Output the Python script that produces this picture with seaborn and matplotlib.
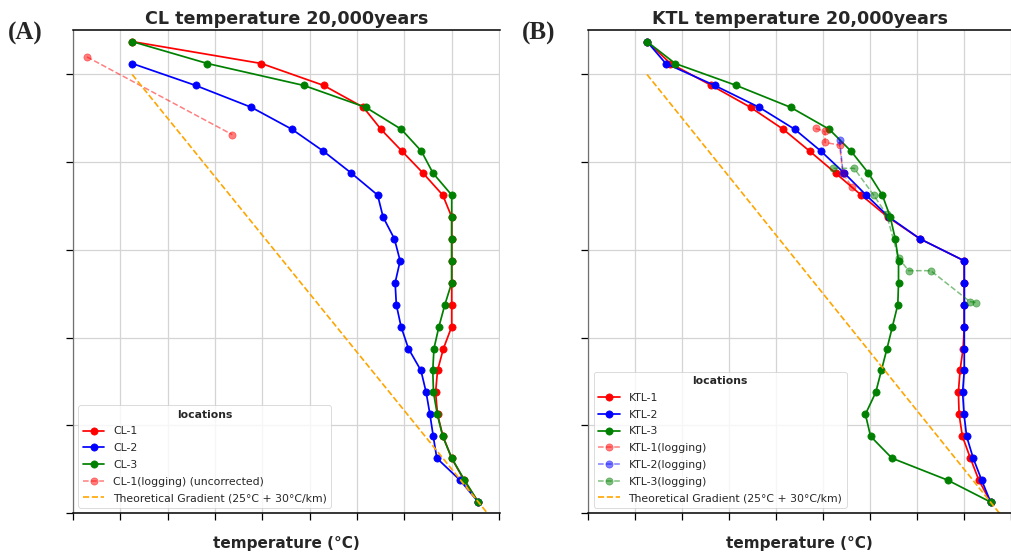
import matplotlib
matplotlib.use("Agg")
import matplotlib.pyplot as plt
import seaborn as sns
import pandas as pd

# ---------------- data ----------------
# elevation levels (m) of the model nodes
levels = [375, 125, -125, -375, -625, -875, -1125, -1375, -1625, -1875, -2125,
          -2375, -2625, -2875, -3125, -3375, -3625, -3875, -4125, -4375, -4625, -4875]

# Panel A : CL wells (temperature °C)
cl1_T = [25, 79.6, 105.9, 122.7, 130.1, 139.0, 147.9, 156.2, 160.0, 160.0, 160.0,
         160.0, 160.0, 160.0, 156.5, 154.0, 153.2, 154.0, 156.3, 160.0, 165.2, 171.2]
cl2_T = [25, 51.8, 75.4, 92.5, 105.8, 117.6, 128.7, 131.0, 135.8, 138.2,
         136.1, 136.6, 138.6, 141.7, 147.0, 149.2, 150.8, 152.2, 153.7, 163.5, 171.2]
cl3_T = [25, 56.8, 97.5, 123.7, 138.7, 147.2, 152.1, 160.0, 160.0, 160.0, 160.0,
         160.0, 157.1, 154.6, 152.5, 152.0, 152.3, 153.9, 156.2, 160.0, 165.4, 171.2]
cl1_log_T = [5.9, 67.3]
cl1_log_elev = [200, -686]

# Panel B : KTL wells
ktl1_T = [25, 35.0, 52.4, 69.1, 83.0, 94.3, 105.3, 116.2, 127.5, 141.3, 160.1,
          160.1, 160.1, 160.1, 159.6, 158.3, 157.6, 157.9, 159.3, 162.7, 166.3, 171.3]
ktl2_T = [25, 33.0, 53.8, 72.8, 87.9, 99.1, 109.0, 118.3, 128.0, 141.3, 160.1,
          160.1, 160.1, 160.1, 160.1, 160.1, 159.4, 160.0, 161.1, 163.9, 167.5, 171.3]
ktl3_T = [25, 37.0, 63.0, 86.2, 102.6, 111.9, 119.3, 125.2, 128.6, 130.7, 132.1,
          132.1, 131.8, 129.5, 127.2, 124.8, 122.4, 118.0, 120.2, 129.3, 153.0, 171.3]
ktl1_log_T = [96.8, 100.8, 100.8, 107.0, 108.4, 112.2]
ktl1_log_elev = [-615, -650, -775, -805, -1125, -1280]
ktl2_log_T = [107.0, 108.5]
ktl2_log_elev = [-745, -1125]
ktl3_log_T = [104.4, 113.2, 121.5, 127.0, 132.1, 136.4, 145.8, 162.5, 165.3]
ktl3_log_elev = [-1070, -1070, -1374, -1596, -2092, -2237, -2237, -2590, -2600]

# theoretical gradient 25 °C + 30 °C/km (end points)
theo_T = [25, 175]
theo_elev = [0, -5000]

x_ticks = [0, 20, 40, 60, 80, 100, 120, 140, 160, 180]
y_ticks = [0, -1000, -2000, -3000, -4000, -5000]

# ---------------- style ----------------
sns.set_theme(style="ticks")
plt.rcParams["font.family"] = ["DejaVu Sans"]

fig = plt.figure(figsize=(10.11, 5.53), dpi=100)
W, H = 1011, 553


def make_axes(left_px, right_px):
    return fig.add_axes([left_px / W, (H - 513) / H, (right_px - left_px) / W, 483 / H])


def series_plot(ax, T, elev, color, label, dashed=False):
    df = pd.DataFrame({"T": T, "elev": elev})
    kw = dict(linestyle="--", alpha=0.5, linewidth=1.1) if dashed else dict(linewidth=1.25)
    sns.lineplot(data=df, x="T", y="elev", sort=False, estimator=None, color=color,
                 marker="o", markersize=5.2, markeredgecolor=color, markeredgewidth=0.5,
                 label=label, ax=ax, **kw)


def style_axes(ax, title, xmax):
    ax.set_xlim(0, xmax)
    ax.set_ylim(-5000, 507)
    ax.set_xticks(x_ticks)
    ax.set_yticks(y_ticks)
    ax.set_xticklabels([])
    ax.set_yticklabels([])
    ax.grid(True, color="#d4d4d4", linewidth=0.9)
    ax.set_axisbelow(True)
    ax.spines["right"].set_visible(False)
    for s in ("top", "bottom"):
        ax.spines[s].set_color("black")
        ax.spines[s].set_linewidth(1.1)
    ax.spines["left"].set_color("#707070")
    ax.spines["left"].set_linewidth(0.9)
    ax.tick_params(direction="out", length=5, width=0.9, color="black")
    ax.set_title(title, fontsize=12.6, fontweight="bold", pad=4)
    ax.set_xlabel("temperature (°C)", fontsize=11, fontweight="bold", labelpad=8)
    ax.set_ylabel("")
    leg = ax.legend(title="locations", loc="lower left", fontsize=7.8, labelspacing=0.62,
                    title_fontproperties={"weight": "bold", "size": 7.8})
    leg.get_frame().set_linewidth(0.6)


# ---------------- panel A ----------------
axA = make_axes(73, 500)
series_plot(axA, cl1_T, levels, "red", "CL-1")
series_plot(axA, cl2_T, levels[1:], "blue", "CL-2")
series_plot(axA, cl3_T, levels, "green", "CL-3")
series_plot(axA, cl1_log_T, cl1_log_elev, "red", "CL-1(logging) (uncorrected)", dashed=True)
axA.plot(theo_T, theo_elev, linestyle="--", color="orange", linewidth=1.2,
         label="Theoretical Gradient (25°C + 30°C/km)")
style_axes(axA, "CL temperature 20,000years", 180.4)

# ---------------- panel B ----------------
axB = make_axes(588.3, 1011)
series_plot(axB, ktl1_T, levels, "red", "KTL-1")
series_plot(axB, ktl2_T, levels, "blue", "KTL-2")
series_plot(axB, ktl3_T, levels, "green", "KTL-3")
series_plot(axB, ktl1_log_T, ktl1_log_elev, "red", "KTL-1(logging)", dashed=True)
series_plot(axB, ktl2_log_T, ktl2_log_elev, "blue", "KTL-2(logging)", dashed=True)
series_plot(axB, ktl3_log_T, ktl3_log_elev, "green", "KTL-3(logging)", dashed=True)
axB.plot(theo_T, theo_elev, linestyle="--", color="orange", linewidth=1.2,
         label="Theoretical Gradient (25°C + 30°C/km)")
style_axes(axB, "KTL temperature 20,000years", 179.2)

# panel letters
fig.text(8 / W, 1 - 40 / H, "(A)", family="Liberation Serif", fontweight="bold",
         fontsize=18, va="baseline", ha="left")
fig.text(522 / W, 1 - 40 / H, "(B)", family="Liberation Serif", fontweight="bold",
         fontsize=18, va="baseline", ha="left")

fig.savefig("out.png", dpi=100)
